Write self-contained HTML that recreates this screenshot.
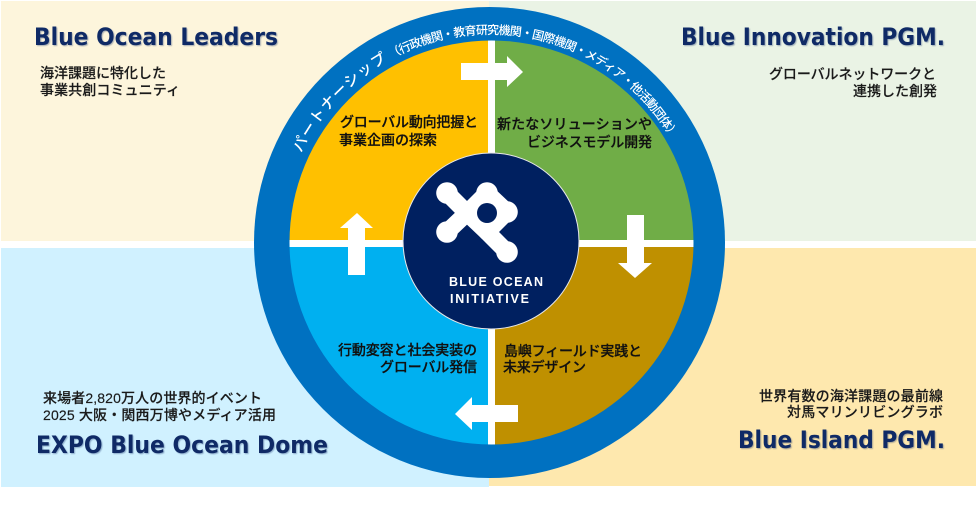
<!DOCTYPE html>
<html lang="ja"><head><meta charset="utf-8"><title>Blue Ocean Initiative</title>
<style>
html,body{margin:0;padding:0;background:#fff}
svg{display:block}
text{font-family:"Liberation Sans","Noto Sans CJK JP",sans-serif}
.t{font-family:"DejaVu Sans","Liberation Sans",sans-serif;font-weight:700;font-size:24px;fill:#0f2a66;filter:drop-shadow(1px 1px .6px rgba(15,42,102,.35))}
.b{font-size:14px;fill:#1a1a1a;font-weight:500;stroke:#1a1a1a;stroke-width:.15px}
.m{font-size:14px;fill:#111;font-weight:500;stroke:#111;stroke-width:.25px}
.a{fill:#fff;font-weight:500}
.w{fill:#fff}
</style></head><body>
<svg width="979" height="531" viewBox="0 0 979 531" xmlns="http://www.w3.org/2000/svg">
<defs><path id="arc" d="M281 243A209 209 0 0 1 699 243" fill="none"/></defs>
<rect width="979" height="531" fill="#fff"/>
<rect x="1" y="1" width="488" height="240" fill="#fdf5dc"/>
<rect x="489" y="1" width="487" height="240" fill="#eaf3e5"/>
<rect x="1" y="248" width="488" height="239" fill="#d0f1ff"/>
<rect x="489" y="248" width="487" height="238" fill="#fee8ae"/>
<circle cx="489.5" cy="242.5" r="235.5" fill="#0071c1"/>
<clipPath id="in"><circle cx="491.5" cy="242.5" r="202"/></clipPath>
<g clip-path="url(#in)">
<rect x="280" y="30" width="212" height="212" fill="#ffc000"/>
<rect x="492" y="30" width="212" height="212" fill="#70ad47"/>
<rect x="280" y="243" width="212" height="212" fill="#00b0f0"/>
<rect x="492" y="243" width="212" height="212" fill="#bf9000"/>
<rect x="488" y="30" width="7" height="425" fill="#fff"/>
<rect x="280" y="240" width="424" height="7" fill="#fff"/>
</g>
<polygon class="w" points="461,63 507,63 507,56 523,72 507,87 507,80 461,80"/>
<polygon class="w" points="627,215 644,215 644,263 652,263 635,278 618,263 627,263"/>
<polygon class="w" points="518,405 472,405 472,397 455,414 472,430 472,422 518,422"/>
<polygon class="w" points="348,275 348,228 340,228 357,213 373,228 365,228 365,275"/>
<circle cx="491" cy="241" r="88" fill="#002060" stroke="#e8e8e8" stroke-width="1"/>
<g fill="none" stroke="#fff" stroke-width="17" stroke-linecap="round" stroke-linejoin="round">
<path d="M487 193L507 212L487 232L467 213Z"/>
<path d="M447 193L467 213L447 232"/>
<path d="M487 232L507 252"/>
</g>
<g fill="#fff">
<circle cx="447" cy="193" r="10.8"/><circle cx="487" cy="193" r="10.8"/><circle cx="507" cy="212" r="10.8"/><circle cx="447" cy="232" r="10.8"/><circle cx="507" cy="252" r="10.8"/>
</g>
<circle cx="487" cy="213" r="10" fill="#002060"/>
<text x="449" y="286" fill="#fff" font-size="12.5" font-weight="700" textLength="94" lengthAdjust="spacing">BLUE OCEAN</text>
<text x="450" y="303" fill="#fff" font-size="12.5" font-weight="700" textLength="79" lengthAdjust="spacing">INITIATIVE</text>
<text class="a" font-size="15"><textPath href="#arc" startOffset="93" textLength="128" lengthAdjust="spacing">パートナーシップ</textPath></text>
<text class="a" font-size="12"><textPath href="#arc" startOffset="225" textLength="323" lengthAdjust="spacing">（行政機関・教育研究機関・国際機関・メディア・他活動団体）</textPath></text>
<text class="t" x="34" y="45" textLength="244" lengthAdjust="spacingAndGlyphs">Blue Ocean Leaders</text>
<text class="t" x="681" y="45" textLength="264" lengthAdjust="spacingAndGlyphs">Blue Innovation PGM.</text>
<text class="t" x="36" y="453" textLength="292" lengthAdjust="spacingAndGlyphs">EXPO Blue Ocean Dome</text>
<text class="t" x="738" y="448" textLength="207" lengthAdjust="spacingAndGlyphs">Blue Island PGM.</text>
<text class="b" x="40" y="78" textLength="126">海洋課題に特化した</text>
<text class="b" x="40" y="95" textLength="140">事業共創コミュニティ</text>
<text class="b" x="769" y="79" textLength="167">グローバルネットワークと</text>
<text class="b" x="853" y="96" textLength="84">連携した創発</text>
<text class="b" x="43" y="403" textLength="219">来場者2,820万人の世界的イベント</text>
<text class="b" x="43" y="420" textLength="233">2025 大阪・関西万博やメディア活用</text>
<text class="b" x="759" y="401" textLength="184">世界有数の海洋課題の最前線</text>
<text class="b" x="787" y="417" textLength="156">対馬マリンリビングラボ</text>
<text class="m" x="340" y="127" textLength="138">グローバル動向把握と</text>
<text class="m" x="339" y="145" textLength="98">事業企画の探索</text>
<text class="m" x="497" y="129" textLength="155">新たなソリューションや</text>
<text class="m" x="527" y="147" textLength="125">ビジネスモデル開発</text>
<text class="m" x="338" y="355" textLength="139">行動変容と社会実装の</text>
<text class="m" x="380" y="372" textLength="97">グローバル発信</text>
<text class="m" x="504" y="356" textLength="138">島嶼フィールド実践と</text>
<text class="m" x="503" y="372" textLength="83">未来デザイン</text>
</svg>
</body></html>
